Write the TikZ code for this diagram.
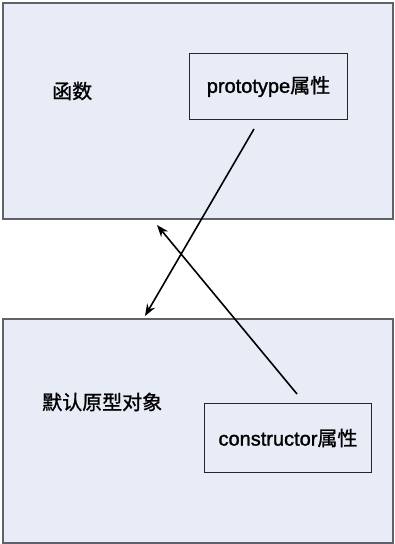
\documentclass[tikz,border=0pt]{standalone}
\usepackage{fontspec}
\setmainfont{Liberation Sans}
\newfontfamily\lat[FakeBold=1.4]{Liberation Sans}
\newfontfamily\cjk[FakeBold=1.2]{Noto Sans CJK SC}
\usetikzlibrary{arrows.meta}
\definecolor{boxfill}{HTML}{E7ECF6}
\definecolor{outerline}{HTML}{5F6367}
\begin{document}
\begin{tikzpicture}[x=1pt,y=-1pt,
  outer/.style={draw=outerline,line width=1.6pt,fill=boxfill,anchor=north west,inner sep=0pt},
  inner/.style={draw=black!85,line width=1pt,fill=boxfill,anchor=north west,inner sep=0pt},
  lbl/.style={font=\lat\fontsize{20}{24}\selectfont,inner sep=0pt},
  link/.style={line width=1.6pt,-{Stealth[length=12pt,width=9pt]}}]
\useasboundingbox (0,0) rectangle (394,544);
\fill[white] (0,0) rectangle (394,544);
\node[outer,minimum width=390pt,minimum height=216pt] (fn) at (2,2) {};
\node[outer,minimum width=390pt,minimum height=224pt] (proto) at (2,318) {};
\node[inner,minimum width=158pt,minimum height=66pt] (pp) at (189,53) {};
\node[lbl] (ppl) at (pp.center) {prototype{\cjk 属性}};
\node[inner,minimum width=167pt,minimum height=69pt] (cp) at (204,403) {};
\node[lbl] (cpl) at (cp.center) {constructor{\cjk 属性}};
\node[lbl,anchor=west] (fnl) at (52,91) {\cjk 函数};
\node[lbl,anchor=west] (protol) at (42,402) {\cjk 默认原型对象};
\coordinate (a1) at (254,129);
\coordinate (a2) at (145,316);
\coordinate (b1) at (297,394);
\coordinate (b2) at (157,225);
\draw[link] (a1) -- (a2);
\draw[link] (b1) -- (b2);
\end{tikzpicture}
\end{document}
